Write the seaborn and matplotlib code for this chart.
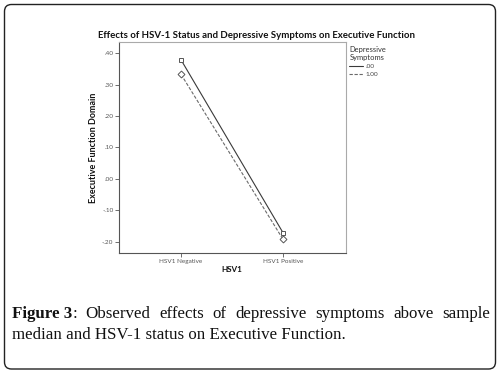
import matplotlib
matplotlib.use("Agg")
import matplotlib.pyplot as plt
import seaborn as sns
import pandas as pd
from matplotlib.patches import FancyBboxPatch
from matplotlib.lines import Line2D
from matplotlib.transforms import IdentityTransform

# ---- data ----
hsv_status = ["HSV1 Negative", "HSV1 Positive"]
dep_groups = [".00", "1.00"]
means_dep_00 = [0.378, -0.170]
means_dep_100 = [0.332, -0.191]
y_ticks = [-0.20, -0.10, 0.00, 0.10, 0.20, 0.30, 0.40]
y_tick_labels = ["-.20", "-.10", ".00", ".10", ".20", ".30", ".40"]
title = "Effects of HSV-1 Status and Depressive Symptoms on Executive Function"
caption_line1 = ["Figure 3:", "Observed", "effects", "of", "depressive", "symptoms", "above", "sample"]
caption_line2 = "median and HSV-1 status on Executive Function."

df = pd.DataFrame({
    "HSV1": hsv_status * 2,
    "Executive Function Domain": means_dep_00 + means_dep_100,
    "Depressive Symptoms": [dep_groups[0]] * 2 + [dep_groups[1]] * 2,
})

sns.set_style("white")
plt.rcParams["font.family"] = ["Lato", "DejaVu Sans"]

W, H = 501, 376
fig = plt.figure(figsize=(W / 100, H / 100), dpi=100)
fig.patch.set_facecolor("white")
renderer = fig.canvas.get_renderer()


def fit(t, target, horizontal=True):
    ext = t.get_window_extent(renderer)
    cur = ext.width if horizontal else ext.height
    t.set_fontsize(t.get_fontsize() * target / cur)


ax = fig.add_axes([119 / W, 1 - 253 / H, (346 - 119) / W, (253 - 42) / H])
sns.lineplot(
    data=df, x="HSV1", y="Executive Function Domain",
    hue="Depressive Symptoms", style="Depressive Symptoms",
    markers={".00": "s", "1.00": "D"},
    dashes={".00": "", "1.00": (3, 1.5)},
    palette={".00": "#3a3a3a", "1.00": "#6a6a6a"},
    ax=ax, legend=False, linewidth=0.8, markersize=3.5,
    markerfacecolor="white", markeredgecolor="#555555", markeredgewidth=0.7,
)
ax.set_xlim(-0.61, 1.62)
ax.set_ylim(-0.235, 0.435)
ax.set_yticks(y_ticks)
ax.set_yticklabels(y_tick_labels)
ax.set_xlabel("")
ax.set_ylabel("")
ax.tick_params(axis="both", which="both", direction="out", length=3, width=0.6,
               color="#555555", labelsize=4.6, labelcolor="#555555", pad=1,
               left=True, bottom=True)
for side in ["top", "right", "left", "bottom"]:
    ax.spines[side].set_visible(True)
    ax.spines[side].set_color("#555555")
    ax.spines[side].set_linewidth(0.8)
ax.spines["top"].set_color("#aaaaaa")
ax.spines["right"].set_color("#aaaaaa")

t_title = fig.text(257 / W, 1 - 35 / H, title, ha="center", va="center",
                   fontsize=7, fontweight="bold", color="#111111")
fit(t_title, 320)
t_yl = fig.text(94 / W, 1 - 148 / H, "Executive Function Domain", ha="center", va="center",
                rotation=90, fontsize=6.3, fontweight="bold", color="#111111")
fit(t_yl, 110, horizontal=False)
t_xl = fig.text(232 / W, 1 - 270 / H, "HSV1", ha="center", va="center",
                fontsize=6.3, fontweight="bold", color="#111111")
fit(t_xl, 21)

handles = [
    Line2D([], [], color="#3a3a3a", lw=0.8, linestyle="-"),
    Line2D([], [], color="#6a6a6a", lw=0.8, linestyle=(0, (3, 1.5))),
]
leg = fig.legend(handles, dep_groups, title="Depressive\nSymptoms",
                 loc="upper left", bbox_to_anchor=(348 / W, 1 - 45 / H),
                 frameon=False, fontsize=4.6, title_fontsize=5.4,
                 handlelength=2.2, handletextpad=0.4, labelspacing=0.4,
                 borderaxespad=0, alignment="left", borderpad=0.2)
for t in leg.get_texts():
    t.set_color("#444444")
leg.get_title().set_color("#333333")
leg.get_title().set_linespacing(1.1)

# ---- caption (justified first line) ----
serif = "Liberation Serif"
fs = 12.2
y1 = H - 312
y2 = H - 333
left, right = 12, 490
words = []
for i, w in enumerate(caption_line1):
    if i == 0:
        t = fig.text(0, 0, "Figure 3", family=serif, fontweight="bold", fontsize=fs,
                     transform=IdentityTransform(), va="center_baseline", color="#111111")
    else:
        t = fig.text(0, 0, w, family=serif, fontsize=fs, transform=IdentityTransform(),
                     va="center_baseline", color="#111111")
    words.append(t)
colon = fig.text(0, 0, ":", family=serif, fontsize=fs, transform=IdentityTransform(),
                 va="center_baseline", color="#111111")
widths = [t.get_window_extent(renderer).width for t in words]
first_w = widths[0]
widths[0] += colon.get_window_extent(renderer).width
gap = (right - left - sum(widths)) / (len(widths) - 1)
x = left
for i, t in enumerate(words):
    t.set_position((x, y1))
    if i == 0:
        colon.set_position((x + first_w, y1))
    x += widths[i] + gap
fig.text(left, y2, caption_line2, family=serif, fontsize=fs,
         transform=IdentityTransform(), va="center_baseline", color="#111111")

box = FancyBboxPatch((4.5, H - 369), 491, 364.5,
                     boxstyle="round,pad=0,rounding_size=7",
                     transform=IdentityTransform(), facecolor="none",
                     edgecolor="#222222", linewidth=1.0)
fig.patches.append(box)
box.set_figure(fig)

fig.savefig("out.png", dpi=100)
